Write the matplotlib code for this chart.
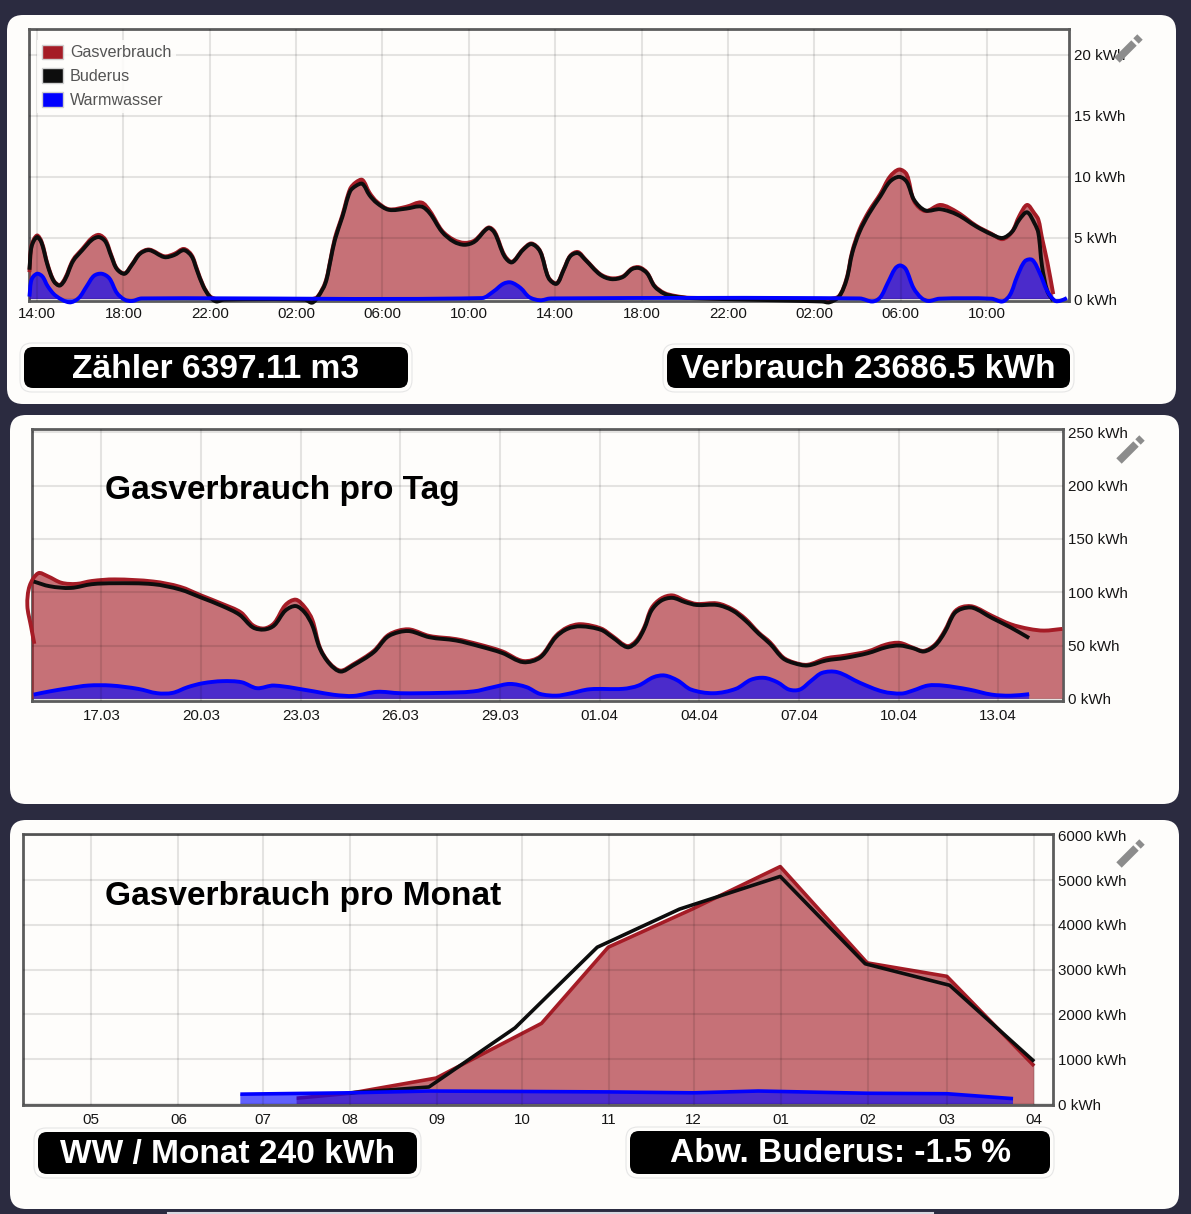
import matplotlib
matplotlib.use('Agg')
import matplotlib.pyplot as plt
import numpy as np
from matplotlib.patches import FancyBboxPatch, Patch, PathPatch
from matplotlib.path import Path

plt.rcParams['font.family'] = ['Liberation Sans', 'DejaVu Sans']

WIDTH, HEIGHT = 1191, 1214
PAGE = '#2b2b40'
CARD = '#fefdfb'
RED = '#a51c26'
BLACK = '#0d0d0d'
BLUE = '#0000ff'
FRAME = '#5c5c5c'

# top chart: last two days, hours since 14:00
hours = [-0.35, -0.25, 0, .21, .5, .78, 1.05, 1.3, 1.67, 2.1,
         2.55, 2.87, 3.17, 3.44, 3.7, 4.06, 4.4, 4.77, 5.2, 5.9,
         6.36, 6.8, 7.16, 7.4, 7.7, 8, 8.3, 8.66, 12.4, 12.74,
         13, 13.36, 13.6, 13.8, 14.15, 14.5, 14.77, 15.07, 15.4, 15.75,
         16.3, 17.1, 17.8, 18.2, 18.76, 19.3, 19.8, 20.27, 20.9, 21.2,
         21.65, 22, 22.5, 22.9, 23.3, 23.7, 24.07, 24.4, 24.7, 25.05,
         25.4, 26.08, 26.6, 27.13, 27.56, 27.9, 28.26, 28.6, 29.05, 29.57,
         30.26, 36.36, 36.7, 37.15, 37.5, 37.76, 38.1, 38.54, 39.06, 39.5,
         39.93, 40.28, 40.63, 41.15, 41.85, 42.63, 43.5, 44.2, 44.72, 45.16,
         45.5, 45.86, 46.2, 46.38, 46.55, 46.8, 47.07]
hour_gas = [2.2, 4.4, 5.2, 4.7, 2.8, 1.5, 1.15, 1.7, 3.2, 4.1,
            5.0, 5.25, 4.85, 3.6, 2.5, 2.1, 2.85, 3.75, 4.05, 3.5,
            3.7, 4.1, 3.6, 2.5, 1.1, .25, 0, 0, 0, 0,
            .2, 1.4, 3.3, 5.0, 6.9, 9.0, 9.55, 9.75, 8.7, 7.95,
            7.35, 7.55, 7.9, 7.2, 5.6, 4.85, 4.6, 4.8, 5.85, 5.5,
            3.6, 3.05, 4.05, 4.55, 3.95, 1.75, 1.3, 2.45, 3.55, 3.85,
            3.25, 2.05, 1.7, 1.85, 2.5, 2.6, 2.15, 1.1, .5, .25,
            .1, 0, 0, .25, 1.7, 3.9, 5.7, 7.2, 8.6, 10.0,
            10.6, 10.2, 8.0, 7.2, 7.7, 7.1, 6.0, 5.35, 4.9, 5.5,
            6.8, 7.7, 7.0, 6.5, 5.0, 3.0, .4]
hour_buderus = [2.4, 4.3, 5.07, 4.6, 2.7, 1.45, 1.1, 1.6, 3.1, 4.0,
                4.85, 5.07, 4.7, 3.5, 2.45, 2.07, 2.8, 3.7, 4.0, 3.43,
                3.6, 4.0, 3.5, 2.4, 1.04, .2, -.2, -.05, -.05, -.3,
                .14, 1.3, 3.2, 4.85, 6.75, 8.8, 9.26, 9.43, 8.5, 7.85,
                7.3, 7.4, 7.57, 7.0, 5.5, 4.7, 4.44, 4.7, 5.8, 5.4,
                3.5, 3.0, 4.0, 4.5, 3.9, 1.7, 1.25, 2.4, 3.5, 3.76,
                3.2, 2.0, 1.63, 1.8, 2.45, 2.53, 2.1, 1.04, .44, .2,
                .08, -.2, -.27, .2, 1.6, 3.76, 5.5, 7.0, 8.4, 9.6,
                10.0, 9.6, 8.1, 7.25, 7.35, 6.9, 5.94, 5.3, 5.0, 5.5,
                6.5, 7.1, 6.2, 5.4, 2.7, .63, -.14]
ww_hours = [-0.35, -0.25, 0, .25, .5, .87, 1.5, 1.93, 2.3, 2.64,
            3, 3.35, 3.7, 4.06, 4.4, 4.85, 20.6, 21.15, 21.6, 21.95,
            22.4, 22.8, 23.3, 23.8, 38.1, 38.7, 39.06, 39.4, 39.75, 39.98,
            40.24, 40.6, 40.97, 41.3, 41.8, 44.2, 44.72, 45.07, 45.4, 45.76,
            46.1, 46.45, 46.8, 47.15, 47.4, 47.7]
hour_ww = [.2, 1.6, 2.07, 1.85, 1.04, .27, -.27, .08, 1.04, 1.9,
           2.07, 1.7, .5, -.05, -.16, .05, .08, .63, 1.25, 1.36,
           .9, .16, -.1, .05, .05, -.2, .14, 1.3, 2.5, 2.75,
           2.45, .9, .08, -.16, .03, .03, -.2, .35, 1.85, 3.1,
           3.2, 2.1, .63, -.14, -.14, .08]
hour_ticks = list(range(0, 48, 4))
hour_labels = ['14:00', '18:00', '22:00', '02:00', '06:00', '10:00',
               '14:00', '18:00', '22:00', '02:00', '06:00', '10:00']
hour_yticks = [0, 5, 10, 15, 20]

# middle chart: days since 17.03
gas_days = [-2.02, -2.12, -2.23, -2.16, -1.9, -1.62, -1.2, -.75, -.29, .4,
            1.56, 2.37, 3, 3.64, 4.2, 4.56, 4.9, 5.2, 5.54, 5.85,
            6.12, 6.35, 6.58, 6.87, 7.2, 7.56, 8.2, 8.6, 8.95, 9.3,
            9.87, 10.68, 11.37, 12.07, 12.7, 13.22, 13.68, 14.03, 14.43, 15.04,
            15.38, 15.83, 16.1, 16.34, 16.56, 16.85, 17.19, 17.58, 17.92, 18.54,
            19, 19.39, 19.79, 20.13, 20.52, 20.86, 21.26, 21.82, 22.39, 23.07,
            23.63, 24.03, 24.43, 24.76, 25.1, 25.39, 25.67, 25.9, 26.24, 26.8,
            27.37, 27.93, 28.38, 28.93]
day_gas = [51.6, 68, 87.5, 106, 117.8, 115, 108.8, 107.8, 110.5, 112,
           110, 105, 97, 89, 81, 69, 66, 71, 88, 93,
           86, 74, 48, 33.5, 26.5, 32, 45, 59, 64, 65,
           59, 56, 51, 44.5, 35.5, 40, 59, 67, 70, 66,
           59, 49.5, 54.5, 67, 85, 94, 97, 92, 89, 89.5,
           84, 75, 62, 53, 39, 34, 32, 38, 40.5, 44.5,
           51, 52.5, 48, 45, 51, 64, 81, 86, 86.5, 78,
           70, 65.6, 64, 65.6]
buderus_days = [-2.04, -1.56, -.92, -.29, .4, 1.56, 2.37, 3, 3.64, 4.16,
                4.56, 4.9, 5.2, 5.54, 5.85, 6.12, 6.35, 6.58, 6.87, 7.2,
                7.56, 8.2, 8.6, 8.95, 9.3, 9.87, 10.68, 11.37, 12.07, 12.7,
                13.22, 13.68, 14.03, 14.43, 15.04, 15.38, 15.83, 16.1, 16.34, 16.56,
                16.85, 17.19, 17.58, 17.92, 18.54, 19, 19.39, 19.79, 20.13, 20.52,
                20.86, 21.26, 21.82, 22.39, 23.07, 23.63, 24.03, 24.43, 24.76, 25.1,
                25.39, 25.67, 25.9, 26.24, 26.8, 27.37, 27.93]
day_buderus = [110, 105.6, 104, 107.5, 108.4, 107.5, 102.5, 95, 87, 78.8,
               67, 65, 68.8, 82.8, 87, 81, 68.8, 46.9, 32.8, 25.6,
               31, 43.8, 57.8, 62.5, 63.4, 57.8, 54.7, 49.4, 43, 34.4,
               39, 57.8, 65.6, 68, 64.7, 57.8, 48.4, 53, 65.6, 82.8,
               92, 94.7, 90.6, 88, 88, 82.8, 73.4, 61, 51.6, 38,
               33.4, 31.3, 36, 38.4, 42.8, 48.4, 50, 47.5, 44.4, 50,
               62.5, 79.7, 84.4, 85.3, 76, 67, 57]
ww_days = [-2.04, -1.56, -.98, -.4, .29, 1.1, 1.68, 2.14, 2.6, 3.06,
           3.64, 4.22, 4.68, 5.2, 6.4, 7.0, 7.6, 8.3, 9.0, 10.2,
           11.2, 11.8, 12.3, 12.8, 13.2, 13.7, 14.1, 14.7, 15.7, 16.17,
           16.62, 16.96, 17.35, 17.75, 18.43, 19.1, 19.56, 19.96, 20.35, 20.7,
           21.03, 21.37, 21.7, 22.16, 22.84, 23.52, 24.09, 24.43, 24.88, 25.33,
           26.12, 26.8, 27.37, 27.93]
day_ww = [4, 7, 10, 12.5, 12.5, 9.4, 5.3, 5.6, 11, 14.7,
          16.6, 15.6, 10, 12.5, 7, 3.8, 2.8, 6.6, 5.3, 5.6,
          7, 11, 14, 11, 4.7, 3, 5, 9, 9.4, 12.5,
          20.3, 21.9, 17.2, 8.75, 5.3, 9.4, 18, 19.7, 15.6, 8.75,
          8.75, 17, 24.4, 25, 15, 6.9, 5, 7.8, 12.5, 12.5,
          8.75, 4, 3, 4.4]
day_ticks = [0, 3, 6, 9, 12, 15, 18, 21, 24, 27]
day_labels = ['17.03', '20.03', '23.03', '26.03', '29.03',
              '01.04', '04.04', '07.04', '10.04', '13.04']
day_yticks = [0, 50, 100, 150, 200, 250]

# bottom chart: days since 1 May
gas_month_days = [73, 92, 122.6, 160, 183.7, 213.5, 244.8, 275.7, 304, 335]
month_gas = [130, 240, 580, 1800, 3500, 4350, 5300, 3150, 2850, 850]
buderus_month_days = [92, 120, 150.6, 179.8, 209, 244.8, 275, 305, 335]
month_buderus = [250, 380, 1700, 3500, 4350, 5080, 3130, 2650, 950]
ww_month_days = [53, 92, 120, 153, 184, 214, 237, 276, 304, 327.5]
month_ww = [220, 250, 290, 280, 270, 250, 290, 240, 230, 120]
month_ticks = [0, 31, 61, 92, 123, 153, 184, 214, 245, 276, 304, 335]
month_labels = ['05', '06', '07', '08', '09', '10', '11', '12', '01', '02', '03', '04']
month_yticks = [0, 1000, 2000, 3000, 4000, 5000, 6000]

fig = plt.figure(figsize=(WIDTH / 100, HEIGHT / 100), dpi=100, facecolor=PAGE)


def px_axes(left, top, right, bottom, zorder):
    return fig.add_axes([left / WIDTH, 1 - bottom / HEIGHT, (right - left) / WIDTH, (bottom - top) / HEIGHT],
                        zorder=zorder)


def rounded(ax, left, top, right, bottom, radius, **kwargs):
    ax.add_patch(FancyBboxPatch((left + radius, top + radius), right - left - 2 * radius, bottom - top - 2 * radius,
                                boxstyle=f'round,pad={radius},rounding_size={radius}', **kwargs))


def badge(ax, left, top, right, bottom, text):
    rounded(ax, left - 4, top - 4, right + 4, bottom + 4, 12, facecolor='none', edgecolor='#e6e6e6', linewidth=0.8)
    rounded(ax, left, top, right, bottom, 9, facecolor='black', edgecolor='none')
    ax.text((left + right) / 2, (top + bottom) / 2 + 1.5, text, color='white', fontsize=24.1, fontweight='bold',
            ha='center', va='center')


def pencil(ax, x, y):
    ax.plot([x - 11, x + 6], [y + 11, y - 6], color='#8c8c8c', lw=5.5, solid_capstyle='butt')
    ax.plot([x + 8, x + 12], [y - 8, y - 12], color='#8c8c8c', lw=5.5, solid_capstyle='butt')


def style_chart(ax, xlim, ylim, xticks, xlabels, yticks, pad):
    ax.set_facecolor('none')
    ax.set_xlim(*xlim)
    ax.set_ylim(*ylim)
    ax.set_xticks(xticks, xlabels)
    ax.set_yticks(yticks, [f'{v} kWh' for v in yticks])
    ax.yaxis.tick_right()
    ax.tick_params(axis='x', length=0, pad=pad, labelsize=10.9, labelcolor='#151515')
    ax.tick_params(axis='y', length=0, pad=3.6, labelsize=10.9, labelcolor='#151515')
    ax.grid(True, color='black', alpha=0.1, lw=1.5, zorder=2.5)
    ax.set_axisbelow(False)
    for spine in ax.spines.values():
        spine.set_color(FRAME)
        spine.set_linewidth(2.0)
        spine.set_zorder(1)


def curve_vertices(ax, x, y):
    # cubic segments running through the read values, like the smoothed lines of the original
    xr = ax.get_xlim()[1] - ax.get_xlim()[0]
    yr = ax.get_ylim()[1] - ax.get_ylim()[0]
    pts = np.column_stack([x, y]).astype(float)
    steps = np.hypot(np.diff(pts[:, 0]) / xr, np.diff(pts[:, 1]) / yr * 272 / 1040)
    t = np.concatenate([[0], np.cumsum(steps)])
    tang = np.gradient(pts, t, axis=0, edge_order=1)
    tang[1:-1] = (pts[2:] - pts[:-2]) / (t[2:] - t[:-2])[:, None]
    verts = [pts[0]]
    for i in range(len(pts) - 1):
        dt = t[i + 1] - t[i]
        verts.append(pts[i] + tang[i] * dt / 3)
        verts.append(pts[i + 1] - tang[i + 1] * dt / 3)
        verts.append(pts[i + 1])
    return verts


def draw_curve(ax, x, y, color, lw, fill_alpha, line_z, fill_z, smooth):
    if smooth:
        verts = curve_vertices(ax, x, y)
        codes = [Path.MOVETO] + [Path.CURVE4] * (len(verts) - 1)
    else:
        verts = list(zip(x, y))
        codes = [Path.MOVETO] + [Path.LINETO] * (len(verts) - 1)
    area_verts = list(verts) + [(x[-1], 0), (min(x), 0), (min(x), y[0]), verts[0]]
    area_codes = codes + [Path.LINETO, Path.LINETO, Path.LINETO, Path.CLOSEPOLY]
    ax.add_patch(PathPatch(Path(area_verts, area_codes), facecolor=color, alpha=fill_alpha, lw=0, zorder=fill_z))
    ax.add_patch(PathPatch(Path(verts, codes), facecolor='none', edgecolor=color, lw=lw, clip_on=False,
                           zorder=line_z, capstyle='butt', joinstyle='round'))


def draw_series(ax, gas_x, gas_y, bud_x, bud_y, ww_x, ww_y, lw=2.8, smooth=True):
    draw_curve(ax, gas_x, gas_y, RED, lw, 0.62, 2.1, 2.0, smooth)
    draw_curve(ax, ww_x, ww_y, BLUE, lw, 0.62, 6, 2.2, smooth)
    draw_curve(ax, bud_x, bud_y, BLACK, lw, 0, 5, 0.5, smooth)


# page background with the three cards
back = px_axes(0, 0, WIDTH, HEIGHT, 0)
back.set_xlim(0, WIDTH)
back.set_ylim(HEIGHT, 0)
back.axis('off')
rounded(back, 7, 15, 1176, 404, 16, facecolor=CARD, edgecolor='none')
rounded(back, 10, 415, 1179, 804, 16, facecolor=CARD, edgecolor='none')
rounded(back, 10, 820, 1179, 1209, 16, facecolor=CARD, edgecolor='none')
back.plot([168, 933], [1213, 1213], color='#d8d8e0', lw=1.5)

ax_hour = px_axes(29, 29, 1069, 301, 1)
style_chart(ax_hour, (-0.37, 47.8), (-0.16, 22.1), hour_ticks, hour_labels, hour_yticks, 4.4)
draw_series(ax_hour, hours, hour_gas, hours, hour_buderus, ww_hours, hour_ww)
handles = [Patch(facecolor=RED, edgecolor='#cfcfcf', lw=1, label='Gasverbrauch'),
           Patch(facecolor=BLACK, edgecolor='#cfcfcf', lw=1, label='Buderus'),
           Patch(facecolor=BLUE, edgecolor='#cfcfcf', lw=1, label='Warmwasser')]
legend = ax_hour.legend(handles=handles, loc='upper left', bbox_to_anchor=(0.0075, 0.96), fontsize=11.6,
                        frameon=True, framealpha=0.85, edgecolor='none', facecolor=CARD, fancybox=False,
                        labelcolor='#545454', handlelength=1.35, handleheight=1.0, handletextpad=0.4,
                        labelspacing=0.5, borderpad=0.3, borderaxespad=0)
legend.set_zorder(7)

ax_day = px_axes(32, 429, 1063, 701, 1)
style_chart(ax_day, (-2.09, 28.95), (-2, 253), day_ticks, day_labels, day_yticks, 6)
draw_series(ax_day, gas_days, day_gas, buderus_days, day_buderus, ww_days, day_ww)

ax_month = px_axes(23, 834, 1053, 1105, 1)
style_chart(ax_month, (-24.2, 341.7), (-22, 6027), month_ticks, month_labels, month_yticks, 5.8)
draw_series(ax_month, gas_month_days, month_gas, buderus_month_days, month_buderus, ww_month_days, month_ww,
            lw=2.6, smooth=False)

# badges, titles and edit icons on top
front = px_axes(0, 0, WIDTH, HEIGHT, 2)
front.set_xlim(0, WIDTH)
front.set_ylim(HEIGHT, 0)
front.axis('off')
badge(front, 24, 347, 408, 388, 'Zähler 6397.11 m3')
badge(front, 667, 348, 1070, 388, 'Verbrauch 23686.5 kWh')
badge(front, 38, 1132, 417, 1174, 'WW / Monat 240 kWh')
badge(front, 630, 1131, 1050, 1174, 'Abw. Buderus: -1.5 %')
front.text(105, 490.5, 'Gasverbrauch pro Tag', fontsize=24.1, fontweight='bold', color='black', va='center')
front.text(105, 896, 'Gasverbrauch pro Monat', fontsize=24.1, fontweight='bold', color='black', va='center')
pencil(front, 1128, 49)
pencil(front, 1130, 450)
pencil(front, 1130, 854)

fig.savefig('out.png', dpi=100, facecolor=PAGE)
